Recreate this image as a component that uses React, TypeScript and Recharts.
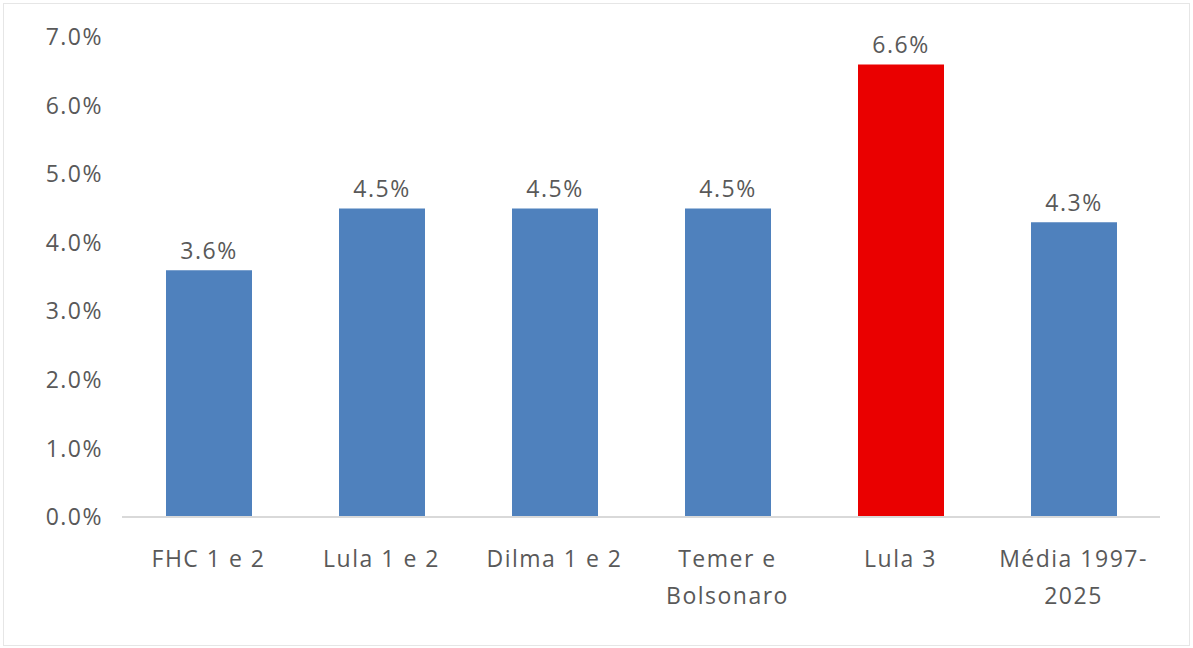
import { BarChart, Bar, XAxis, YAxis, Cell, LabelList } from 'recharts';

// Categories (line breaks as in the original axis labels)
const categories = ['FHC 1 e 2', 'Lula 1 e 2', 'Dilma 1 e 2', 'Temer e\nBolsonaro', 'Lula 3', 'Média 1997-\n2025'];
const growth = [3.6, 4.5, 4.5, 4.5, 6.6, 4.3];
const highlight = [false, false, false, false, true, false];
const yTicks = [0, 1, 2, 3, 4, 5, 6, 7];

const data = categories.map((name, i) => ({ name, value: growth[i], hi: highlight[i] }));

const BLUE = '#4F81BD';
const RED = '#EA0000';
const TEXT = '#595959';
const FONT = '"Open Sans", sans-serif';

function CategoryTick({ x, y, payload }: any) {
  const lines = String(payload.value).split('\n');
  return (
    <text x={x} y={y} textAnchor="middle" fill={TEXT} fontFamily={FONT} fontSize={23} letterSpacing={1.5}>
      {lines.map((l, i) => (
        <tspan key={i} x={x} dy={i === 0 ? 42 : 37}>{l}</tspan>
      ))}
    </text>
  );
}

export default function App() {
  return (
    <div style={{ position: 'absolute', left: 0, top: 0, width: 1193, height: 648, background: '#fff' }}>
      <style>{'body{margin:0}'}</style>
      <div style={{ position: 'absolute', left: 3, top: 3, width: 1187, height: 643, border: '1px solid #e6e6e6', boxSizing: 'border-box' }} />
      <BarChart
        width={1193}
        height={648}
        data={data}
        margin={{ top: 37, right: 33, bottom: 0, left: 0 }}
        barSize={86}
      >
        <XAxis
          dataKey="name"
          interval={0}
          tickLine={false}
          axisLine={{ stroke: '#D9D9D9', strokeWidth: 2 }}
          tick={<CategoryTick />}
          height={131}
        />
        <YAxis
          width={122}
          domain={[0, 7]}
          ticks={yTicks}
          axisLine={false}
          tickLine={false}
          tickSize={0}
          tickMargin={19}
          tickFormatter={(v: number) => `${v.toFixed(1)}%`}
          tick={{ fill: TEXT, fontFamily: FONT, fontSize: 23, letterSpacing: 1.5 }}
        />
        <Bar dataKey="value" isAnimationActive={false}>
          {data.map((d, i) => (
            <Cell key={i} fill={d.hi ? RED : BLUE} />
          ))}
          <LabelList
            dataKey="value"
            position="top"
            offset={11}
            formatter={(v: any) => `${Number(v).toFixed(1)}%`}
            style={{ fill: TEXT, fontFamily: FONT, fontSize: 23, letterSpacing: 1.5 }}
          />
        </Bar>
      </BarChart>
    </div>
  );
}
